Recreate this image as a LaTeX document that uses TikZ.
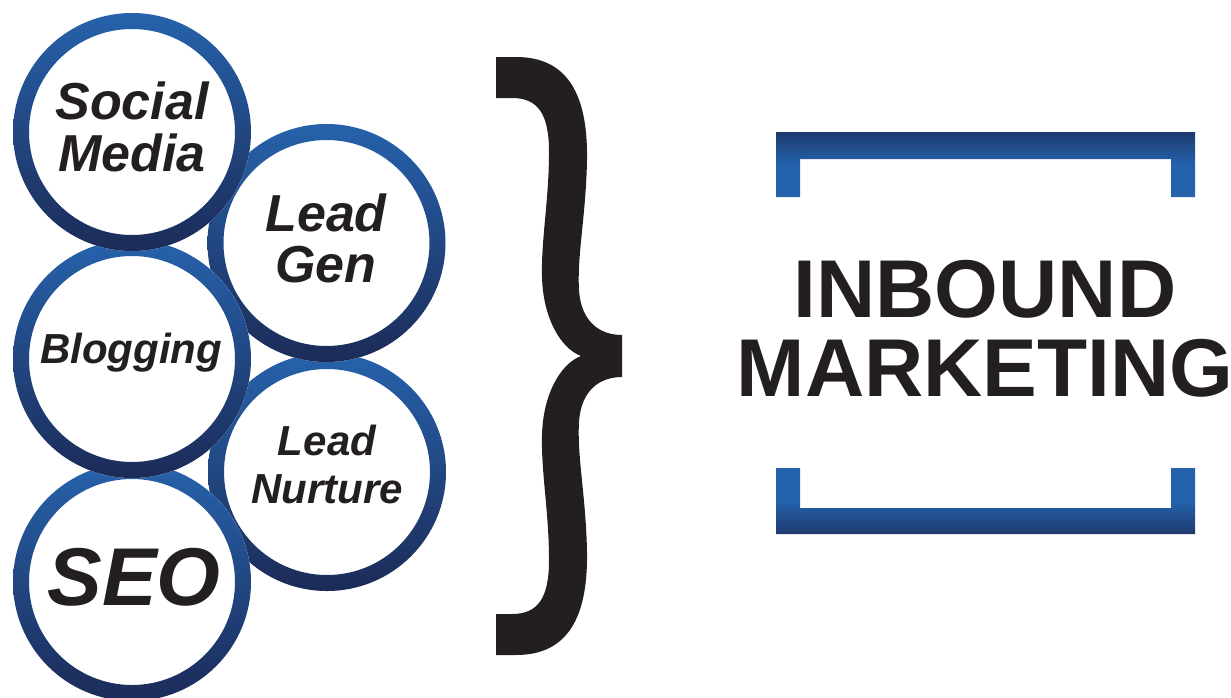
\documentclass[tikz,border=0pt]{standalone}
\usepackage{fontspec}
\setmainfont{Liberation Sans}
\definecolor{ringtop}{HTML}{2662AB}
\definecolor{ringbot}{HTML}{1C2B58}
\definecolor{barblue}{HTML}{2462AC}
\definecolor{bardark}{HTML}{1E3A6E}
\definecolor{ink}{HTML}{231F20}
\begin{document}
\begin{tikzpicture}[x=1pt,y=1pt,
  ring/.style={top color=ringtop, bottom color=ringbot, even odd rule},
  bubbletext/.style={text=ink, inner sep=0pt, align=center},
  titletext/.style={text=ink, inner sep=0pt, anchor=base,
    font=\fontsize{82}{82}\selectfont\bfseries},
  bracetop/.style={top color=bardark, bottom color=barblue, middle color=barblue},
  bracebot/.style={top color=barblue, bottom color=bardark, middle color=barblue}]
\useasboundingbox (0,0) rectangle (1231,-697);

% a white disc with a blue ring shaded from top to bottom
\newcommand\mybubble[1]{%
  \fill[white] (#1) circle[radius=119];
  \shade[ring] (#1) circle[radius=119] (#1) circle[radius=103];}

\coordinate (cSocial)  at (132,-132);
\coordinate (cLeadGen) at (326.5,-243);
\coordinate (cBlog)    at (132,-359);
\coordinate (cNurture) at (327,-472);
\coordinate (cSeo)     at (132,-582);

% right column first, left column stacked on top
\mybubble{cNurture}
\mybubble{cLeadGen}
\mybubble{cSeo}
\mybubble{cBlog}
\mybubble{cSocial}

\node[bubbletext, font=\fontsize{52}{52}\selectfont\bfseries\itshape]
  (social) at (132,-127) {Social\\Media};
\node[bubbletext, font=\fontsize{52}{51}\selectfont\bfseries\itshape]
  (leadgen) at (326,-238) {Lead\\Gen};
\node[bubbletext, anchor=base, font=\fontsize{42}{42}\selectfont\bfseries\itshape]
  (blogging) at (131,-363) {Blogging};
\node[bubbletext, font=\fontsize{42}{48}\selectfont\bfseries\itshape]
  (nurture) at (327,-464) {Lead\\Nurture};
\node[bubbletext, anchor=base, font=\fontsize{82}{82}\selectfont\bfseries\itshape]
  (seo) at (134,-605) {SEO};

% closing curly brace
\fill[ink] (496,-57) -- (516,-57)
  .. controls (568,-57) and (588,-95) .. (587,-160)
  .. controls (586,-215) and (577,-255) .. (579,-290)
  .. controls (581,-322) and (600,-335) .. (622,-335)
  -- (622,-377)
  .. controls (600,-377) and (581,-390) .. (579,-422)
  .. controls (577,-457) and (586,-497) .. (587,-552)
  .. controls (588,-617) and (568,-655) .. (516,-655)
  -- (496,-655) -- (496,-614) -- (512,-614)
  .. controls (538,-614) and (549,-598) .. (549,-560)
  .. controls (549,-512) and (541,-472) .. (542,-435)
  .. controls (543,-395) and (560,-364) .. (581,-356)
  .. controls (560,-348) and (543,-317) .. (542,-277)
  .. controls (541,-240) and (549,-200) .. (549,-152)
  .. controls (549,-114) and (538,-98) .. (512,-98)
  -- (496,-98) -- cycle;

% square brackets around the title
\shade[bracetop] (776,-132) -- (1195,-132) -- (1195,-197) -- (1171,-197)
  -- (1171,-159) -- (800,-159) -- (800,-197) -- (776,-197) -- cycle;
\shade[bracebot] (776,-534) -- (1195,-534) -- (1195,-468) -- (1171,-468)
  -- (1171,-508) -- (800,-508) -- (800,-468) -- (776,-468) -- cycle;

\node[titletext] (inbound) at (985,-317) {INBOUND};
\node[titletext] (marketing) at (985,-396) {MARKETING};
\end{tikzpicture}
\end{document}
